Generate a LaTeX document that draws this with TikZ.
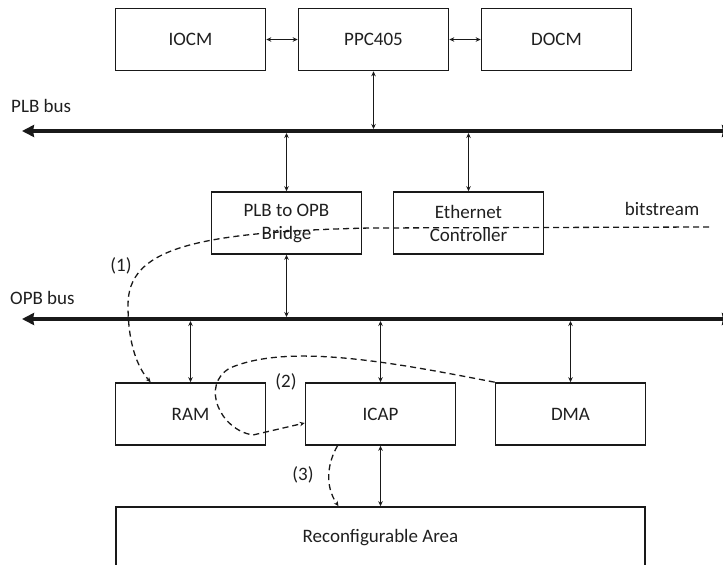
\documentclass[tikz,border=0pt]{standalone}
\usepackage{fontspec}
\setmainfont{Carlito}
\usetikzlibrary{arrows.meta}
\begin{document}
\begin{tikzpicture}[x=1pt,y=-1pt,
  lbl/.style={text=black!88, font=\fontsize{19}{23}\selectfont, inner sep=0pt},
  block/.style={lbl, draw=black!90, line width=1.6pt, minimum width=150pt,
    minimum height=62pt, align=center},
  bus/.style={draw=black!90, line width=4pt,
    arrows={Stealth[length=12pt,width=12pt,inset=1pt]-Stealth[length=12pt,width=12pt,inset=1pt]}},
  link/.style={draw=black!90, line width=1.4pt,
    arrows={Stealth[length=5pt,width=4.5pt]-Stealth[length=5pt,width=4.5pt]}},
  flow/.style={draw=black!90, line width=1.3pt, dash pattern=on 6pt off 4pt,
    -{Stealth[length=5pt,width=4.5pt]}}]
\useasboundingbox (0,0) rectangle (723,565);
\clip (0,0) rectangle (723,565);

% processor and on-chip memories
\node[block] (iocm) at (190.5,39.5) {IOCM};
\node[block] (ppc)  at (373.5,39.5) {PPC405};
\node[block] (docm) at (556.5,39.5) {DOCM};

% buses
\coordinate (plbL) at (22,131);
\coordinate (plbR) at (734,131);
\coordinate (opbL) at (22,319);
\coordinate (opbR) at (734,319);
\draw[bus] (plbL) -- (plbR);
\draw[bus] (opbL) -- (opbR);
\node[lbl, anchor=west] (plbname) at (11,106) {PLB bus};
\node[lbl, anchor=west] (opbname) at (10,298) {OPB bus};

% peripherals
\node[block] (bridge) at (286.5,223) {PLB to OPB\\Bridge};
\node[block] (eth)    at (468.5,223) {Ethernet\\Controller};
\node[block] (ram)    at (190.5,414) {RAM};
\node[block] (icap)   at (380.5,414) {ICAP};
\node[block] (dma)    at (570.5,414) {DMA};
\node[block, minimum width=529pt] (area) at (380.5,538) {Reconfigurable Area};

% point-to-point links
\draw[link] (iocm.east) -- (ppc.west);
\draw[link] (ppc.east) -- (docm.west);
\draw[link, shorten >=2pt] (ppc.south) -- (ppc.south |- plbL);
\draw[link, shorten <=2pt] (bridge.north |- plbL) -- (bridge.north);
\draw[link, shorten <=2pt] (eth.north |- plbL) -- (eth.north);
\draw[link, shorten >=2pt] (bridge.south) -- (bridge.south |- opbL);
\draw[link, shorten <=2pt] (ram.north |- opbL) -- (ram.north);
\draw[link, shorten <=2pt] (icap.north |- opbL) -- (icap.north);
\draw[link, shorten <=2pt] (dma.north |- opbL) -- (dma.north);
\draw[link] (icap.south) -- (area.north -| icap.south);

% bitstream path
\coordinate (bitsrc) at (709,227);
\node[lbl] (bitname) at (662,209) {bitstream};
\draw[flow] (bitsrc) -- (370,228)
  .. controls (190,232) and (128,250) .. (128,305)
  .. controls (128,345) and (138,368) .. ([xshift=36pt]ram.north west);
\node[lbl] (step1) at (121,266) {(1)};

\draw[flow] (dma.north west)
  .. controls (400,364) and (290,342) .. (230,368)
  .. controls (200,385) and (220,430) .. (253,435)
  -- ([yshift=-9pt]icap.west);
\node[lbl] (step2) at (286,382) {(2)};

\draw[flow] ([xshift=-43pt]icap.south)
  .. controls (328,462) and (324,485) .. ([xshift=-42pt]area.north);
\node[lbl] (step3) at (303,475) {(3)};
\end{tikzpicture}
\end{document}
